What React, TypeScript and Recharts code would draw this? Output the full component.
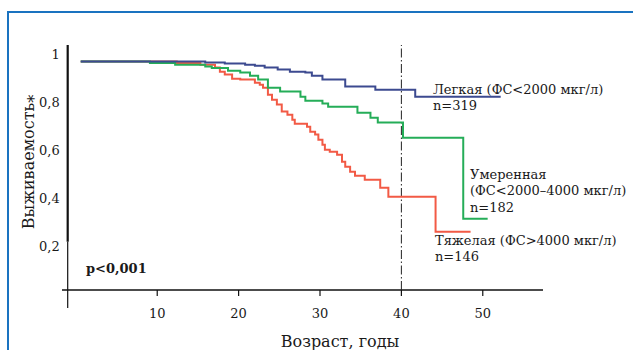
import React from "react";
import {
  LineChart,
  Line,
  XAxis,
  YAxis,
  ReferenceLine,
} from "recharts";

// survival curves (age in years, share surviving)
const mildAge = [0.6, 15.9, 18.3, 20.8, 22.0, 23.2, 24.8, 26.3, 28.2, 29.0, 30.3, 33.1, 36.8, 41.7, 52.2];
const mildSurv = [0.971, 0.967, 0.963, 0.958, 0.954, 0.946, 0.9375, 0.929, 0.925, 0.9125, 0.896, 0.867, 0.854, 0.825, 0.825];

const midAge = [0.6, 9.1, 12.2, 15.9, 16.7, 18.7, 20.2, 21.4, 22.4, 23.6, 25.1, 27.6, 28.2, 30.3, 31.0, 34.6, 36.2, 37.1, 40.2, 47.6, 50.6];
const midSurv = [0.971, 0.965, 0.958, 0.95, 0.944, 0.933, 0.925, 0.9125, 0.896, 0.8625, 0.846, 0.825, 0.808, 0.796, 0.783, 0.758, 0.7375, 0.717, 0.654, 0.317, 0.317];

const severeAge = [0.6, 12.4, 15.3, 17.1, 17.7, 18.3, 19.2, 20.2, 22.0, 22.6, 23.0, 23.6, 24.1, 24.7, 25.3, 26.0, 26.6, 26.9, 28.4, 28.8, 29.4, 29.8, 30.3, 30.6, 31.2, 32.1, 32.7, 33.1, 33.7, 34.3, 35.5, 37.4, 38.4, 44.2, 48.5];
const severeSurv = [0.971, 0.965, 0.958, 0.946, 0.929, 0.917, 0.9, 0.896, 0.883, 0.875, 0.8625, 0.833, 0.8125, 0.792, 0.763, 0.75, 0.729, 0.7125, 0.7, 0.679, 0.667, 0.646, 0.625, 0.604, 0.596, 0.583, 0.554, 0.533, 0.5125, 0.496, 0.479, 0.446, 0.408, 0.263, 0.263];

const xTicks = [10, 20, 30, 40, 50];
const yTicks = [0.2, 0.4, 0.6, 0.8, 1];

const toRows = (ages: number[], surv: number[]) =>
  ages.map((a, i) => ({ age: a, s: surv[i] }));

const font = "'DejaVu Serif', serif";
const ink = "#1a1a1a";

const fmt = (v: number) => String(v).replace(".", ",");

function Note({ x, y, children, bold }: any) {
  return (
    <div
      style={{
        position: "absolute",
        left: x,
        top: y,
        fontFamily: font,
        fontSize: 13,
        lineHeight: "16px",
        color: ink,
        fontWeight: bold ? "bold" : "normal",
        whiteSpace: "nowrap",
      }}
    >
      {children}
    </div>
  );
}

export default function App() {
  const tickStyle = { fontFamily: font, fontSize: 13, fill: ink };

  return (
    <div
      style={{
        position: "absolute",
        left: 0,
        top: 0,
        width: 633,
        height: 350,
        overflow: "hidden",
        background: "#fff",
      }}
    >
      {/* blue frame */}
      <div
        style={{
          position: "absolute",
          left: 7,
          top: 11,
          width: 700,
          height: 400,
          borderLeft: "2.5px solid #1a73c0",
          borderTop: "2.5px solid #1a73c0",
        }}
      />

      <LineChart
        width={633}
        height={350}
        margin={{ top: 45, right: 90, bottom: 30, left: 27.7 }}
        style={{ position: "absolute", left: 0, top: 0 }}
      >
        <XAxis
          type="number"
          dataKey="age"
          domain={[-1, 57.4]}
          ticks={xTicks}
          allowDataOverflow
          height={30}
          axisLine={false}
          tickLine={{ stroke: "#111", strokeWidth: 1.2 }}
          tickSize={6}
          tickMargin={13}
          tick={tickStyle}
        />
        <YAxis
          type="number"
          dataKey="s"
          domain={[0.02, 1.04]}
          ticks={yTicks}
          allowDataOverflow
          width={40}
          axisLine={false}
          tickLine={false}
          tickSize={0}
          tickMargin={8}
          tick={tickStyle}
          tickFormatter={fmt}
        />

        {/* axes drawn as crossing lines */}
        <ReferenceLine
          ifOverflow="visible"
          segment={[{ x: -1.7, y: 0.02 }, { x: 57.4, y: 0.02 }]}
          stroke="#111"
          strokeWidth={1.3}
        />
        <ReferenceLine
          ifOverflow="visible"
          segment={[{ x: -1, y: 1.04 }, { x: -1, y: 0.221 }]}
          stroke="#111"
          strokeWidth={2.2}
        />
        <ReferenceLine
          ifOverflow="visible"
          segment={[{ x: -1, y: 0.221 }, { x: -1, y: -0.055 }]}
          stroke="#111"
          strokeWidth={1.2}
        />
        <ReferenceLine
          x={40}
          stroke="#222"
          strokeWidth={1}
          strokeDasharray="9 2.5 1.5 2.5"
        />

        <Line
          data={toRows(severeAge, severeSurv)}
          dataKey="s"
          type="stepAfter"
          stroke="#f25a45"
          strokeWidth={2}
          dot={false}
          isAnimationActive={false}
        />
        <Line
          data={toRows(midAge, midSurv)}
          dataKey="s"
          type="stepAfter"
          stroke="#25ad58"
          strokeWidth={2}
          dot={false}
          isAnimationActive={false}
        />
        <Line
          data={toRows(mildAge, mildSurv)}
          dataKey="s"
          type="stepAfter"
          stroke="#3c4a90"
          strokeWidth={2}
          dot={false}
          isAnimationActive={false}
        />
      </LineChart>

      <Note x={433} y={82}>Легкая (ФС&lt;2000 мкг/л)</Note>
      <Note x={433} y={98}>n=319</Note>
      <Note x={470} y={167}>Умеренная</Note>
      <Note x={470} y={183}>(ФС&lt;2000–4000 мкг/л)</Note>
      <Note x={470} y={200}>n=182</Note>
      <Note x={435} y={233}>Тяжелая (ФС&gt;4000 мкг/л)</Note>
      <Note x={435} y={249}>n=146</Note>
      <Note x={86} y={261} bold>
        p&lt;0,001
      </Note>

      <div
        style={{
          position: "absolute",
          left: 28,
          top: 162,
          transform: "translate(-50%, -50%) rotate(-90deg)",
          fontFamily: font,
          fontSize: 16,
          color: ink,
          whiteSpace: "nowrap",
        }}
      >
        Выживаемость
        <span style={{ position: "relative", top: "0.35em" }}>*</span>
      </div>
      <div
        style={{
          position: "absolute",
          left: 340,
          top: 341,
          transform: "translate(-50%, -50%)",
          fontFamily: font,
          fontSize: 16,
          color: ink,
          whiteSpace: "nowrap",
        }}
      >
        Возраст, годы
      </div>
    </div>
  );
}
